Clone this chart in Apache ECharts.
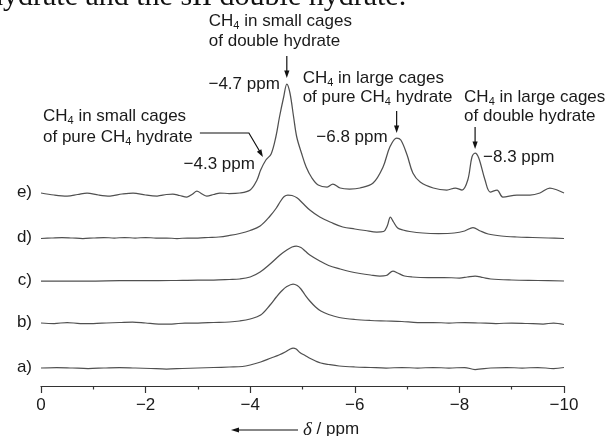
<!DOCTYPE html>
<html>
<head>
<meta charset="utf-8">
<script src="https://cdn.jsdelivr.net/npm/echarts@6/dist/echarts.min.js"></script>
<style>
  html, body { margin: 0; padding: 0; background: #fff; }
  #chart { width: 613px; height: 436px; }
</style>
</head>
<body>
<div id="chart"></div>
<script>
// CH4 NMR traces: chemical shift in ppm vs. intensity above each trace's baseline
const traceNames = ['a)', 'b)', 'c)', 'd)', 'e)'];

const traceA = [[0,0],[-0.3,0.5],[-0.6,0],[-0.9,-0.5],[-1.2,0],[-1.5,0.5],[-1.8,0],[-2.1,-0.5],[-2.4,-1],[-2.7,-0.5],
  [-3.0,0],[-3.3,0.5],[-3.6,1],[-3.85,1.5],[-4.0,3],[-4.2,6],[-4.4,10],[-4.55,13],[-4.67,16],[-4.75,18.5],[-4.82,20],
  [-4.88,19],[-4.95,15.5],[-5.05,12.5],[-5.15,9.5],[-5.25,7],[-5.35,5],[-5.5,3.5],[-5.7,2],[-6.0,1],[-6.3,0.5],[-6.6,0],
  [-6.9,0.5],[-7.2,0],[-7.5,0.5],[-7.8,0],[-8.1,0.5],[-8.3,-1.5],[-8.6,0],[-8.9,0.5],[-9.2,0],[-9.5,0.5],[-9.8,-0.5],[-10,0.5]];

const traceB = [[0,0],[-0.25,-0.5],[-0.5,0.5],[-0.75,-0.5],[-1.0,-0.5],[-1.25,0],[-1.5,0.5],[-1.75,1],[-2.0,0],[-2.25,-1],
  [-2.5,-1],[-2.75,0],[-3.0,0],[-3.3,0.5],[-3.6,1],[-3.8,2],[-4.0,4],[-4.2,8],[-4.38,18],[-4.5,26],[-4.6,32],[-4.7,36.5],
  [-4.82,39],[-4.9,37.5],[-4.97,34],[-5.05,28],[-5.14,22],[-5.25,16],[-5.35,12],[-5.5,8.5],[-5.7,5.5],[-6.0,3.5],[-6.3,2.5],
  [-6.6,2],[-6.9,1.5],[-7.2,0.5],[-7.5,0.5],[-7.8,0],[-8.1,0.5],[-8.4,0],[-8.7,-0.5],[-9.0,0],[-9.3,-0.5],[-9.6,-1],[-9.8,0],[-10,-1.5]];

const traceC = [[0,0],[-0.5,0],[-1.0,0],[-1.5,0.3],[-2.0,0.3],[-2.5,0.5],[-3.0,1],[-3.3,1],[-3.6,1.5],[-3.8,2],[-4.0,4],
  [-4.19,9],[-4.38,17],[-4.57,26],[-4.7,31],[-4.8,34],[-4.88,35],[-4.97,33.5],[-5.05,30],[-5.14,26],[-5.33,20],[-5.5,15.5],
  [-5.72,12],[-5.9,9.5],[-6.1,7.5],[-6.3,6],[-6.48,5],[-6.6,5.5],[-6.73,10],[-6.82,8],[-6.95,5],[-7.1,4],[-7.4,3.5],
  [-7.7,3.5],[-8.0,3],[-8.15,4],[-8.3,5],[-8.45,3.5],[-8.6,2],[-9.0,1],[-9.5,0.5],[-10,0]];

const traceD = [[0,-0.5],[-0.2,0],[-0.4,0.5],[-0.6,0],[-0.8,-0.5],[-1.0,0],[-1.2,0.5],[-1.4,0],[-1.6,0.5],[-1.8,0],
  [-2.0,0.5],[-2.2,0],[-2.4,0],[-2.6,-0.5],[-2.8,0],[-3.0,0],[-3.2,0.5],[-3.4,1],[-3.6,2.5],[-3.8,4.5],[-4.0,7.5],
  [-4.19,12],[-4.38,22],[-4.5,30],[-4.57,36],[-4.65,41.5],[-4.72,43],[-4.8,42.5],[-4.9,40],[-5.0,35],[-5.14,28],
  [-5.33,21],[-5.55,15.5],[-5.77,11],[-6.0,9],[-6.2,7.5],[-6.42,6],[-6.55,6.5],[-6.62,12],[-6.68,21],[-6.74,16],
  [-6.82,10],[-6.92,8],[-7.05,6.5],[-7.3,5],[-7.6,4.5],[-7.9,5],[-8.1,7],[-8.26,10.5],[-8.4,7],[-8.55,4],[-8.8,2],
  [-9.1,1],[-9.4,0.5],[-9.7,0],[-10,-0.5]];

const traceE = [[0,0],[-0.25,-2],[-0.5,-3],[-0.7,-1.5],[-0.88,0],[-1.1,-2],[-1.32,-3],[-1.55,-1],[-1.76,0],[-2.0,-2],
  [-2.22,-3],[-2.4,-1.5],[-2.52,-1],[-2.65,-2.5],[-2.79,-4],[-2.9,-1],[-2.98,2],[-3.08,-1],[-3.17,-3],[-3.3,-1.5],
  [-3.42,0],[-3.6,-0.5],[-3.8,0],[-4.0,3],[-4.13,13],[-4.2,23],[-4.3,33],[-4.4,39],[-4.49,56],[-4.56,76],[-4.64,96],
  [-4.7,109],[-4.76,100],[-4.83,76],[-4.89,56],[-4.98,40],[-5.07,26],[-5.18,15],[-5.3,8],[-5.47,6],[-5.58,9],[-5.72,5],
  [-5.9,4],[-6.1,5],[-6.35,10],[-6.54,26],[-6.67,46],[-6.8,55],[-6.88,53],[-7.0,38],[-7.11,20],[-7.25,11],[-7.5,5],
  [-7.76,3],[-7.92,5],[-8.05,3],[-8.16,13],[-8.24,36],[-8.3,40],[-8.37,35],[-8.49,13],[-8.59,1],[-8.72,3],[-8.83,-4],
  [-9.1,-2],[-9.35,-2],[-9.54,0],[-9.73,5],[-9.87,3],[-10,0]];

const traces = [traceA, traceB, traceC, traceD, traceE];

// Assigned signals in trace e)
const peakShifts = [-4.3, -4.7, -6.8, -8.3];
const peakTexts = ['\u22124.3 ppm', '\u22124.7 ppm', '\u22126.8 ppm', '\u22128.3 ppm'];

const xTicks = { min: -10, max: 0, step: 2 };

// ---- layout ----
const stackLevel = [18, 63, 105, 148, 193];   // vertical placement of each trace
const lineColor = '#505050';
const textColor = '#1a1a1a';
const sans = '"Liberation Sans", Arial, sans-serif';

const chart = echarts.init(document.getElementById('chart'), null, { renderer: 'canvas' });

chart.setOption({
  animation: false,
  grid: { left: 41, right: 49, top: 60, bottom: 50 },
  xAxis: {
    type: 'value',
    min: xTicks.min, max: xTicks.max, interval: xTicks.step,
    inverse: true,
    axisLine: { show: true, lineStyle: { color: '#333', width: 1.2 } },
    axisTick: { show: true, inside: false, length: 7, lineStyle: { color: '#333', width: 1.2 } },
    minorTick: { show: true, splitNumber: 2, length: 3.5, lineStyle: { color: '#333', width: 1.2 } },
    splitLine: { show: false },
    axisLabel: {
      fontSize: 17, fontFamily: sans, color: textColor, margin: 11,
      showMinLabel: true, showMaxLabel: true,
      formatter: v => v === 0 ? '0' : '\u2212' + Math.abs(v)
    }
  },
  yAxis: { type: 'value', min: 0, max: 326, show: false },
  series: traces.map((t, i) => ({
    type: 'line',
    name: traceNames[i],
    data: t.map(([d, v]) => [d, stackLevel[i] + v]),
    showSymbol: false,
    smooth: 0.35,
    lineStyle: { color: lineColor, width: 1.25 }
  }))
});

const px = (d, v) => chart.convertToPixel({ gridIndex: 0 }, [d, v]);

function label(x, base, text, align) {
  return {
    type: 'text', x: x, y: base - 5.5, silent: true,
    style: {
      text: text, fill: textColor, font: '17px ' + sans,
      align: align || 'left', textAlign: align || 'left',
      verticalAlign: 'middle', textVerticalAlign: 'middle',
      lineHeight: 20,
      rich: { s: { fontSize: 11, fontFamily: sans, fill: textColor, verticalAlign: 'bottom', lineHeight: 12 } }
    }
  };
}

function downArrow(x, tipY, len) {
  return [
    { type: 'line', silent: true, shape: { x1: x, y1: tipY - len, x2: x, y2: tipY - 5 },
      style: { stroke: '#111', lineWidth: 1.2 } },
    { type: 'polygon', silent: true, shape: { points: [[x, tipY], [x - 2.6, tipY - 7.5], [x + 2.6, tipY - 7.5]] },
      style: { fill: '#111' } }
  ];
}

const g = [];

// Row labels
traceNames.forEach((n, i) => {
  const p = px(0, stackLevel[i]);
  g.push({ type: 'text', x: 32, y: p[1] - 1, silent: true,
    style: { text: n, fill: textColor, font: '17px ' + sans, align: 'right', textAlign: 'right',
             verticalAlign: 'middle', textVerticalAlign: 'middle' } });
});

// Peak tips on trace e)
const eTop = d => {
  let best = traceE[0];
  traceE.forEach(p => { if (Math.abs(p[0] - d) < Math.abs(best[0] - d)) best = p; });
  return px(best[0], stackLevel[4] + best[1]);
};

// −4.7 ppm: small cages of the double hydrate
{
  const p = eTop(peakShifts[1]);
  const tipY = p[1] - 6;
  g.push(...downArrow(p[0], tipY, 22));
  g.push(label(p[0] - 78, tipY - 51, 'CH{s|4} in small cages'));
  g.push(label(p[0] - 78, tipY - 31, 'of double hydrate'));
  g.push(label(p[0] - 7, tipY + 12, peakTexts[1], 'right'));
}
// −6.8 ppm: large cages of pure CH4 hydrate
{
  const p = eTop(peakShifts[2]);
  const tipY = p[1] - 5;
  g.push(...downArrow(p[0], tipY, 22));
  g.push(label(p[0] - 94, tipY - 49, 'CH{s|4} in large cages'));
  g.push(label(p[0] - 94, tipY - 30, 'of pure CH{s|4} hydrate'));
  g.push(label(p[0] - 9, tipY + 10, peakTexts[2], 'right'));
}
// −8.3 ppm: large cages of the double hydrate
{
  const p = eTop(peakShifts[3]);
  const tipY = p[1] - 4;
  g.push(...downArrow(p[0], tipY, 22));
  g.push(label(p[0] - 11, tipY - 46, 'CH{s|4} in large cages'));
  g.push(label(p[0] - 11, tipY - 27, 'of double hydrate'));
  g.push(label(p[0] + 8, tipY + 14, peakTexts[3], 'left'));
}
// −4.3 ppm shoulder: small cages of pure CH4 hydrate
{
  const p = eTop(peakShifts[0]);
  const tip = [p[0] - 3, p[1] - 3];
  const elbow = [tip[0] - 14, tip[1] - 24];
  g.push({ type: 'polyline', silent: true,
    shape: { points: [[tip[0] - 63, elbow[1]], elbow, [tip[0] - 2.5, tip[1] - 4.5]] },
    style: { stroke: '#111', lineWidth: 1.2, fill: null } });
  const ang = Math.atan2(tip[1] - elbow[1], tip[0] - elbow[0]);
  const back = 7.5, half = 2.6;
  const bx = tip[0] - back * Math.cos(ang), by = tip[1] - back * Math.sin(ang);
  g.push({ type: 'polygon', silent: true,
    shape: { points: [tip, [bx + half * Math.sin(ang), by - half * Math.cos(ang)], [bx - half * Math.sin(ang), by + half * Math.cos(ang)]] },
    style: { fill: '#111' } });
  g.push(label(43, elbow[1] - 11, 'CH{s|4} in small cages'));
  g.push(label(43, elbow[1] + 10, 'of pure CH{s|4} hydrate'));
  g.push(label(tip[0] - 8, tip[1] + 13, peakTexts[0], 'right'));
}

// Axis title with direction arrow
g.push({ type: 'line', silent: true, shape: { x1: 238, y1: 430, x2: 298, y2: 430 }, style: { stroke: '#111', lineWidth: 1.2 } });
g.push({ type: 'polygon', silent: true, shape: { points: [[231, 430], [239, 427.4], [239, 432.6]] }, style: { fill: '#111' } });
g.push({ type: 'text', x: 303, y: 435 - 5.5, silent: true,
  style: { text: '{d|\u03b4} / ppm', fill: textColor, font: '17px ' + sans, verticalAlign: 'middle', textVerticalAlign: 'middle',
           rich: { d: { fontFamily: '"Liberation Serif", "Times New Roman", serif', fontStyle: 'italic', fontSize: 19, fill: textColor } } } });

// Running caption line above the figure
g.push({ type: 'text', x: -12, y: 7 - 9.5, silent: true,
  style: { text: 'hydrate and the sII double hydrate.', fill: '#111', font: '30px "Liberation Serif", "Times New Roman", serif',
           verticalAlign: 'middle', textVerticalAlign: 'middle' } });

chart.setOption({ graphic: g });
</script>
</body>
</html>
